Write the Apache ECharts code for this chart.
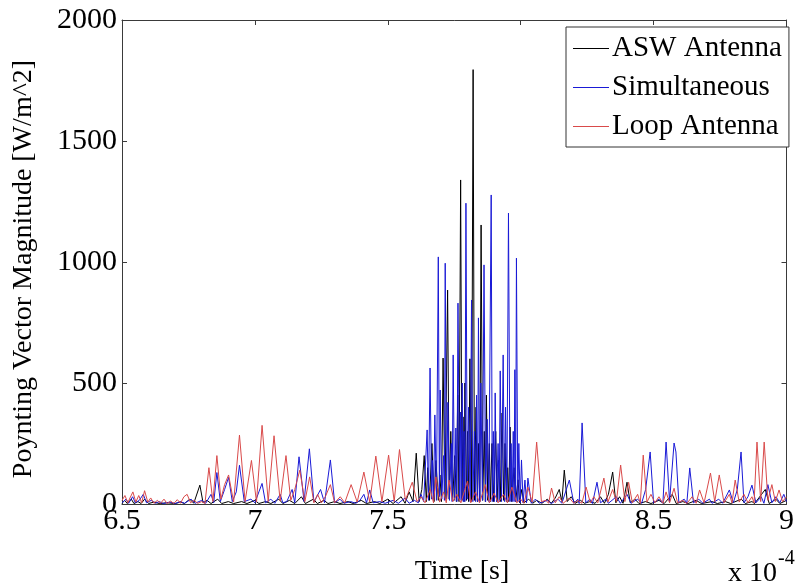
<!DOCTYPE html>
<html><head><meta charset="utf-8">
<script src="https://cdn.jsdelivr.net/npm/echarts@6/dist/echarts.min.js"></script>
<style>html,body{margin:0;padding:0;background:#fff}#c{width:797px;height:588px}</style>
</head><body><div id="c"></div>
<script>
// time in units of 1e-4 s, value in W/m^2
const xTicks = [6.5, 7, 7.5, 8, 8.5, 9];
const yTicks = [0, 500, 1000, 1500, 2000];
const seriesNames = ['ASW Antenna', 'Simultaneous', 'Loop Antenna'];

const aswPoints = [
[6.500,3],[6.510,15],[6.520,2],[6.535,20],[6.545,2],[6.560,10],[6.572,2],[6.585,20],[6.600,2],[6.620,8],[6.640,2],[6.670,5],[6.700,2],[6.720,8],[6.735,2],[6.755,20],[6.770,3],[6.793,78],[6.805,5],[6.820,15],[6.835,2],[6.860,20],[6.875,2],[6.900,10],[6.920,2],[6.950,10],[6.970,2],[7.000,15],[7.015,2],[7.040,10],[7.060,2],[7.090,20],[7.105,2],[7.130,15],[7.150,2],[7.175,30],[7.190,2],[7.220,20],[7.235,2],[7.260,15],[7.275,2],[7.300,10],[7.320,2],[7.350,10],[7.370,2],[7.400,15],[7.420,2],[7.450,10],[7.470,2],[7.500,20],[7.520,2],[7.550,30],[7.565,3],[7.580,50],
[7.595,10],[7.607,210],[7.618,10],[7.628,60],[7.637,200],[7.645,10],[7.650,150],[7.657,15],[7.666,250],[7.674,10],[7.681,180],[7.690,15],[7.696,120],[7.702,10],[7.708,603],[7.715,20],[7.725,884],[7.731,20],[7.737,300],[7.744,15],[7.752,200],[7.758,10],[7.763,450],[7.768,10],[7.774,1339],[7.779,15],[7.783,360],[7.787,10],[7.790,500],[7.796,15],[7.800,300],[7.804,10],[7.809,600],[7.815,10],[7.821,1795],[7.826,15],[7.832,400],[7.837,10],[7.841,250],[7.846,10],[7.851,1153],[7.857,15],[7.863,300],[7.867,10],[7.871,450],[7.876,15],[7.882,250],[7.886,10],[7.892,250],[7.898,10],[7.906,300],[7.911,10],[7.917,180],[7.923,10],[7.930,376],[7.936,15],[7.941,250],[7.946,10],[7.951,150],[7.955,10],[7.960,318],[7.966,10],[7.975,150],[7.981,10],[7.990,100],[7.996,5],[8.004,60],[8.012,5],[8.030,20],[8.045,3],
[8.060,15],[8.080,3],[8.100,20],[8.115,3],[8.130,25],[8.145,60],[8.155,10],[8.164,140],[8.175,10],[8.190,30],[8.205,3],[8.225,15],[8.240,3],[8.260,10],[8.280,3],[8.300,30],[8.315,3],[8.330,40],[8.346,132],[8.358,5],[8.372,30],[8.385,3],[8.400,90],[8.412,5],[8.430,20],[8.445,2],[8.470,10],[8.490,2],[8.520,15],[8.540,2],[8.570,40],[8.585,2],[8.610,10],[8.630,2],[8.660,15],[8.680,2],[8.720,10],[8.740,2],[8.770,10],[8.790,2],[8.830,20],[8.845,2],[8.870,10],[8.880,2],[8.920,60],[8.935,2],[8.960,20],[8.975,2],[9.000,15]
];

const simPoints = [
[6.500,5],[6.515,20],[6.525,3],[6.540,30],[6.550,5],[6.565,15],[6.580,40],[6.592,5],[6.610,15],[6.625,3],[6.640,10],[6.655,2],[6.680,8],[6.700,2],[6.720,10],[6.735,3],[6.760,20],[6.775,3],[6.800,15],[6.815,3],[6.835,40],[6.845,5],[6.857,130],[6.870,10],[6.886,60],[6.901,110],[6.915,10],[6.930,50],[6.942,160],[6.960,10],[6.985,20],[7.000,5],[7.015,50],[7.027,85],[7.040,5],[7.060,20],[7.075,3],[7.095,40],[7.105,5],[7.120,10],[7.140,60],[7.150,5],[7.166,195],[7.185,10],[7.205,228],[7.222,8],[7.247,60],[7.262,5],[7.284,182],[7.300,5],[7.320,20],[7.335,3],[7.360,10],[7.380,3],[7.395,15],[7.410,40],[7.420,5],[7.432,58],[7.445,5],[7.470,10],[7.490,3],[7.520,15],[7.540,3],[7.565,25],[7.580,3],[7.600,15],[7.615,5],
[7.625,40],[7.635,10],[7.640,15],[7.648,306],[7.653,15],[7.659,562],[7.665,20],[7.668,180],[7.672,15],[7.677,368],[7.683,15],[7.690,1021],[7.694,30],[7.697,471],[7.703,20],[7.710,200],[7.713,15],[7.716,995],[7.721,20],[7.726,420],[7.732,15],[7.739,250],[7.742,10],[7.746,616],[7.751,15],[7.756,314],[7.760,10],[7.764,830],[7.770,15],[7.773,380],[7.776,15],[7.780,500],[7.784,10],[7.787,300],[7.790,10],[7.794,1243],[7.799,20],[7.804,400],[7.810,10],[7.815,843],[7.820,10],[7.826,300],[7.830,10],[7.834,450],[7.838,10],[7.841,769],[7.846,10],[7.850,500],[7.856,15],[7.862,988],[7.868,10],[7.874,350],[7.880,10],[7.889,1277],[7.893,10],[7.897,300],[7.901,10],[7.904,459],[7.909,10],[7.915,250],[7.919,10],[7.923,550],[7.928,10],[7.934,616],[7.939,10],[7.943,400],[7.948,10],[7.954,1202],[7.960,10],[7.964,250],[7.968,10],[7.972,300],[7.975,10],[7.978,555],[7.981,10],[7.984,1016],[7.989,10],[7.993,250],[7.998,5],[8.003,182],[8.009,5],[8.016,99],[8.022,5],[8.027,107],[8.040,3],
[8.055,20],[8.070,3],[8.100,15],[8.115,2],[8.140,20],[8.155,3],[8.183,99],[8.200,3],[8.215,20],[8.220,2],[8.231,335],[8.245,5],[8.260,20],[8.270,2],[8.287,90],[8.300,5],[8.320,20],[8.330,3],[8.360,30],[8.375,3],[8.400,40],[8.415,3],[8.440,20],[8.455,3],[8.470,60],[8.487,215],[8.500,5],[8.520,20],[8.535,3],[8.547,256],[8.560,10],[8.577,252],[8.584,215],[8.595,5],[8.615,20],[8.625,3],[8.636,149],[8.650,5],[8.670,20],[8.685,3],[8.710,20],[8.720,3],[8.745,20],[8.760,3],[8.785,58],[8.800,5],[8.815,60],[8.829,215],[8.840,5],[8.855,30],[8.870,78],[8.885,5],[8.905,30],[8.915,3],[8.930,80],[8.945,5],[8.960,30],[8.975,5],[8.990,40],[9.000,10]
];

const loopPoints = [
[6.500,15],[6.511,35],[6.522,5],[6.530,25],[6.541,50],[6.552,8],[6.563,35],[6.574,5],[6.585,55],[6.597,8],[6.608,25],[6.620,3],[6.633,15],[6.645,3],[6.658,20],[6.670,2],[6.683,12],[6.695,2],[6.708,18],[6.720,3],[6.733,30],[6.745,40],[6.758,5],[6.770,15],[6.785,3],[6.800,10],[6.812,2],[6.827,150],[6.842,10],[6.857,200],[6.872,20],[6.886,80],[6.901,120],[6.920,8],[6.942,285],[6.963,10],[6.987,180],[7.006,8],[7.027,325],[7.050,10],[7.072,282],[7.095,12],[7.117,200],[7.135,15],[7.150,60],[7.169,140],[7.188,10],[7.206,112],[7.222,5],[7.236,40],[7.250,5],[7.265,30],[7.284,80],[7.300,5],[7.321,30],[7.338,5],[7.362,80],[7.385,8],[7.410,132],[7.432,8],[7.455,198],[7.478,10],[7.503,202],[7.524,10],[7.544,225],[7.566,15],[7.592,90],[7.610,10],[7.625,30],[7.640,5],[7.660,60],[7.672,5],[7.681,112],[7.695,8],[7.710,50],[7.720,5],[7.730,99],[7.745,10],[7.760,40],[7.775,5],[7.790,60],[7.800,95],[7.812,5],[7.830,50],[7.845,5],[7.867,80],[7.882,5],[7.900,45],[7.915,5],[7.935,40],[7.950,5],[7.967,70],[7.985,5],[8.000,20],[8.012,3],[8.027,70],[8.043,8],[8.060,256],[8.078,10],[8.095,15],[8.105,3],[8.116,66],[8.130,5],[8.145,30],[8.160,3],[8.183,25],[8.200,3],[8.215,15],[8.230,3],[8.246,70],[8.262,5],[8.275,30],[8.290,5],[8.313,107],[8.328,8],[8.346,60],[8.360,10],[8.376,161],[8.392,10],[8.406,90],[8.420,5],[8.440,40],[8.450,3],[8.461,202],[8.475,8],[8.490,40],[8.505,5],[8.520,30],[8.535,3],[8.547,50],[8.560,5],[8.577,65],[8.590,5],[8.610,15],[8.625,2],[8.645,30],[8.660,3],[8.673,58],[8.690,5],[8.714,128],[8.730,10],[8.747,120],[8.765,5],[8.785,40],[8.795,5],[8.807,99],[8.822,8],[8.840,40],[8.855,5],[8.870,30],[8.878,5],[8.889,256],[8.903,10],[8.916,256],[8.930,15],[8.945,80],[8.958,10],[8.972,58],[8.985,10],[9.000,30]
];

const FONT = '"Liberation Serif", "Times New Roman", serif';
const axisColor = '#3a3a3a';
const chart = echarts.init(document.getElementById('c'), null, {renderer: 'canvas'});

const xMin = xTicks[0], xMax = xTicks[xTicks.length - 1], xStep = xTicks[1] - xTicks[0];
const yMin = yTicks[0], yMax = yTicks[yTicks.length - 1], yStep = yTicks[1] - yTicks[0];

function xAxisCfg(pos, showLabels) {
  return {
    type: 'value', position: pos, min: xMin, max: xMax, interval: xStep,
    axisLine: {show: true, onZero: false, lineStyle: {color: axisColor, width: 1}},
    axisTick: {show: true, inside: true, length: 5, lineStyle: {color: axisColor}},
    axisLabel: {show: showLabels, color: '#000', fontFamily: FONT, fontSize: 30, margin: 2,
      formatter: v => String(v)},
    splitLine: {show: false}
  };
}
function yAxisCfg(pos, showLabels) {
  return {
    type: 'value', position: pos, min: yMin, max: yMax, interval: yStep,
    axisLine: {show: true, onZero: false, lineStyle: {color: axisColor, width: 1}},
    axisTick: {show: true, inside: true, length: 5, lineStyle: {color: axisColor}},
    axisLabel: {show: showLabels, color: '#000', fontFamily: FONT, fontSize: 30, margin: 5,
      formatter: v => String(v)},
    splitLine: {show: false}
  };
}

const colors = ['#000000', '#1a1ad6', '#d94a4a'];
const datas = [aswPoints, simPoints, loopPoints];

chart.setOption({
  animation: false,
  backgroundColor: '#fff',
  grid: {left: 122, right: 2, top: 20, bottom: 84, containLabel: false},
  xAxis: [xAxisCfg('bottom', true), xAxisCfg('top', false)],
  yAxis: [yAxisCfg('left', true), yAxisCfg('right', false)],
  legend: {
    orient: 'vertical', left: 566, top: 27,
    data: seriesNames,
    icon: 'rect',
    itemWidth: 36, itemHeight: 1, itemGap: 10,
    padding: [7, 7, 6, 7],
    borderColor: '#333', borderWidth: 1, backgroundColor: '#fff',
    textStyle: {fontFamily: FONT, fontSize: 29, color: '#000', padding: [0, 0, 0, -2], lineHeight: 29}
  },
  series: seriesNames.map((n, i) => ({
    name: n, type: 'line', data: datas[i], xAxisIndex: 0, yAxisIndex: 0,
    symbol: 'none', showSymbol: false, smooth: false,
    lineStyle: {color: colors[i], width: 1}, itemStyle: {color: colors[i]},
    z: 2 + i
  })),
  graphic: [
    {type: 'text', x: 24, y: 269, rotation: Math.PI / 2,
      style: {text: 'Poynting Vector Magnitude [W/m^2]', font: '28px ' + FONT, fill: '#000', align: 'center', verticalAlign: 'middle'}},
    {type: 'text', x: 462, y: 572,
      style: {text: 'Time [s]', font: '28px ' + FONT, fill: '#000', align: 'center', verticalAlign: 'middle'}},
    {type: 'text', x: 728, y: 574,
      style: {text: 'x 10', font: '28px ' + FONT, fill: '#000', align: 'left', verticalAlign: 'middle'}},
    {type: 'text', x: 778, y: 559,
      style: {text: '-4', font: '20px ' + FONT, fill: '#000', align: 'left', verticalAlign: 'middle'}}
  ]
});
</script>
</body></html>
